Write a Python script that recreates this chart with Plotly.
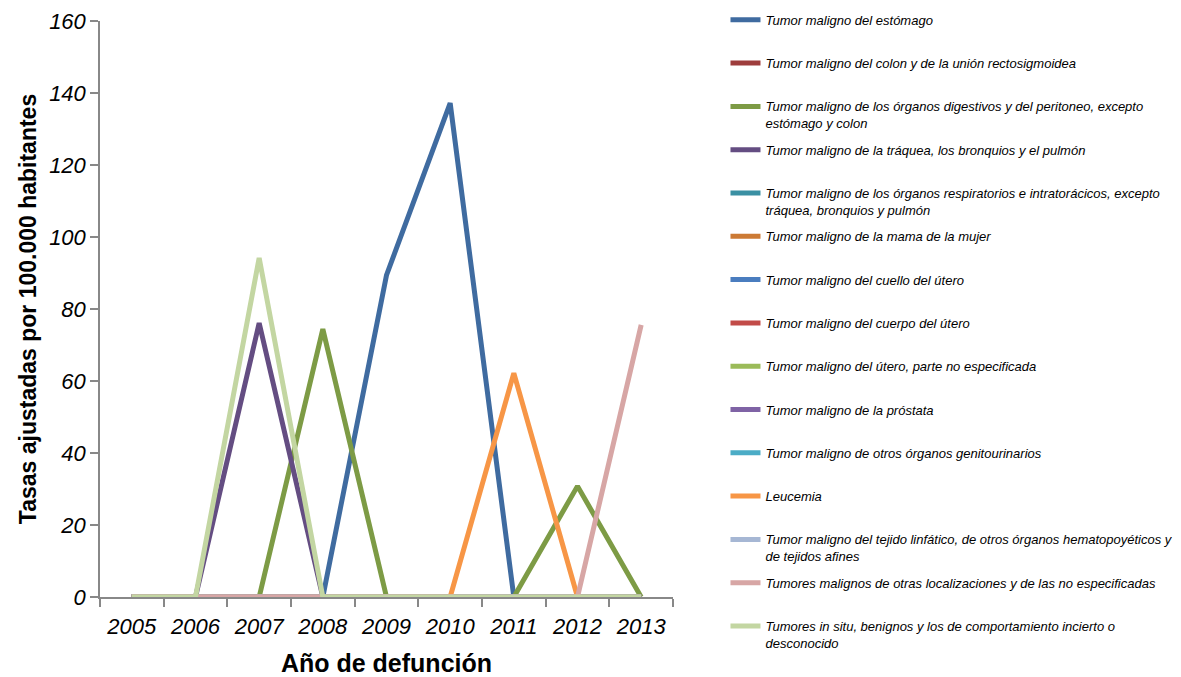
import plotly.graph_objects as go

years = ["2005", "2006", "2007", "2008", "2009", "2010", "2011", "2012", "2013"]

series_names = [
    "Tumor maligno del estómago",
    "Tumor maligno del colon y de la unión rectosigmoidea",
    "Tumor maligno de los órganos digestivos y del peritoneo, excepto<br>estómago y colon",
    "Tumor maligno de la tráquea, los bronquios y el pulmón",
    "Tumor maligno de los órganos respiratorios e intratorácicos, excepto<br>tráquea, bronquios y pulmón",
    "Tumor maligno de la mama de la mujer",
    "Tumor maligno del cuello del útero",
    "Tumor maligno del cuerpo del útero",
    "Tumor maligno del útero, parte no especificada",
    "Tumor maligno de la próstata",
    "Tumor maligno de otros órganos genitourinarios",
    "Leucemia",
    "Tumor maligno del tejido linfático, de otros órganos hematopoyéticos y<br>de tejidos afines",
    "Tumores malignos de otras localizaciones y de las no especificadas",
    "Tumores in situ, benignos y los de comportamiento incierto o<br>desconocido",
]

estomago = [0, 0, 0, 0, 89.4, 137.2, 0, 0, 0]
colon = [0, 0, 0, 0, 0, 0, 0, 0, 0]
digestivos = [0, 0, 0, 74.4, 0, 0, 0, 30.8, 0]
traquea = [0, 0, 76.1, 0, 0, 0, 0, 0, 0]
respiratorios = [0, 0, 0, 0, 0, 0, 0, 0, 0]
mama = [0, 0, 0, 0, 0, 0, 0, 0, 0]
cuello_utero = [0, 0, 0, 0, 0, 0, 0, 0, 0]
cuerpo_utero = [0, 0, 0, 0, 0, 0, 0, 0, 0]
utero_ne = [0, 0, 0, 0, 0, 0, 0, 0, 0]
prostata = [0, 0, 0, 0, 0, 0, 0, 0, 0]
genitourinarios = [0, 0, 0, 0, 0, 0, 0, 0, 0]
leucemia = [0, 0, 0, 0, 0, 0, 62.2, 0, 0]
linfatico = [0, 0, 0, 0, 0, 0, 0, 0, 0]
otras = [0, 0, 0, 0, 0, 0, 0, 0, 75.6]
in_situ = [0, 0, 94.2, 0, 0, 0, 0, 0, 0]

series_values = [estomago, colon, digestivos, traquea, respiratorios, mama,
                 cuello_utero, cuerpo_utero, utero_ne, prostata, genitourinarios,
                 leucemia, linfatico, otras, in_situ]

colors = ["#3F6BA0", "#9E3D3C", "#7D9B45", "#644D82", "#3A90A3", "#CC7A35",
          "#4A7DBF", "#C24B48", "#9BBB59", "#7F63A5", "#4BACC6", "#F79646",
          "#A6B7D4", "#D7A6A5", "#C3D6A2"]

FONT = "Liberation Sans, Arial"

fig = go.Figure()
for name, vals, col in zip(series_names, series_values, colors):
    label = name if "<br>" in name else name + "<br> "
    fig.add_trace(go.Scatter(
        x=years, y=vals, mode="lines", name=label,
        line=dict(color=col, width=5), legendgroup=name,
    ))

fig.update_layout(
    width=1181, height=677,
    margin=dict(l=100, r=508, t=21, b=80, autoexpand=False),
    paper_bgcolor="white", plot_bgcolor="white",
    font=dict(family=FONT, color="#000000"),
    showlegend=True,
    legend=dict(
        x=1.0916, y=1.028, xanchor="left", yanchor="top",
        valign="top", tracegroupgap=6.5, maxheight=1,
        font=dict(family=FONT, size=13, style="italic", color="#000000"),
        bgcolor="rgba(0,0,0,0)",
    ),
    xaxis=dict(
        type="category", range=[-0.5, 8.5],
        showline=True, linecolor="#888888", linewidth=1.5,
        ticks="outside", ticklen=8, tickcolor="#888888", tickwidth=1.5,
        tickson="boundaries", tickangle=0, ticklabelstandoff=9,
        showgrid=False, zeroline=False,
        tickfont=dict(family=FONT, size=22, style="italic"),
        title=dict(text="<b>Año de defunción</b>", font=dict(family=FONT, size=25), standoff=16),
    ),
    yaxis=dict(
        range=[0, 160], dtick=20,
        showline=True, linecolor="#888888", linewidth=1.5,
        ticks="outside", ticklen=8, tickcolor="#888888", tickwidth=1.5,
        showgrid=False, zeroline=False,
        tickfont=dict(family=FONT, size=22, style="italic"),
        title=dict(text="<b>Tasas ajustadas por 100.000 habitantes</b>", font=dict(family=FONT, size=23), standoff=6),
    ),
)

fig.write_html("out.html")
